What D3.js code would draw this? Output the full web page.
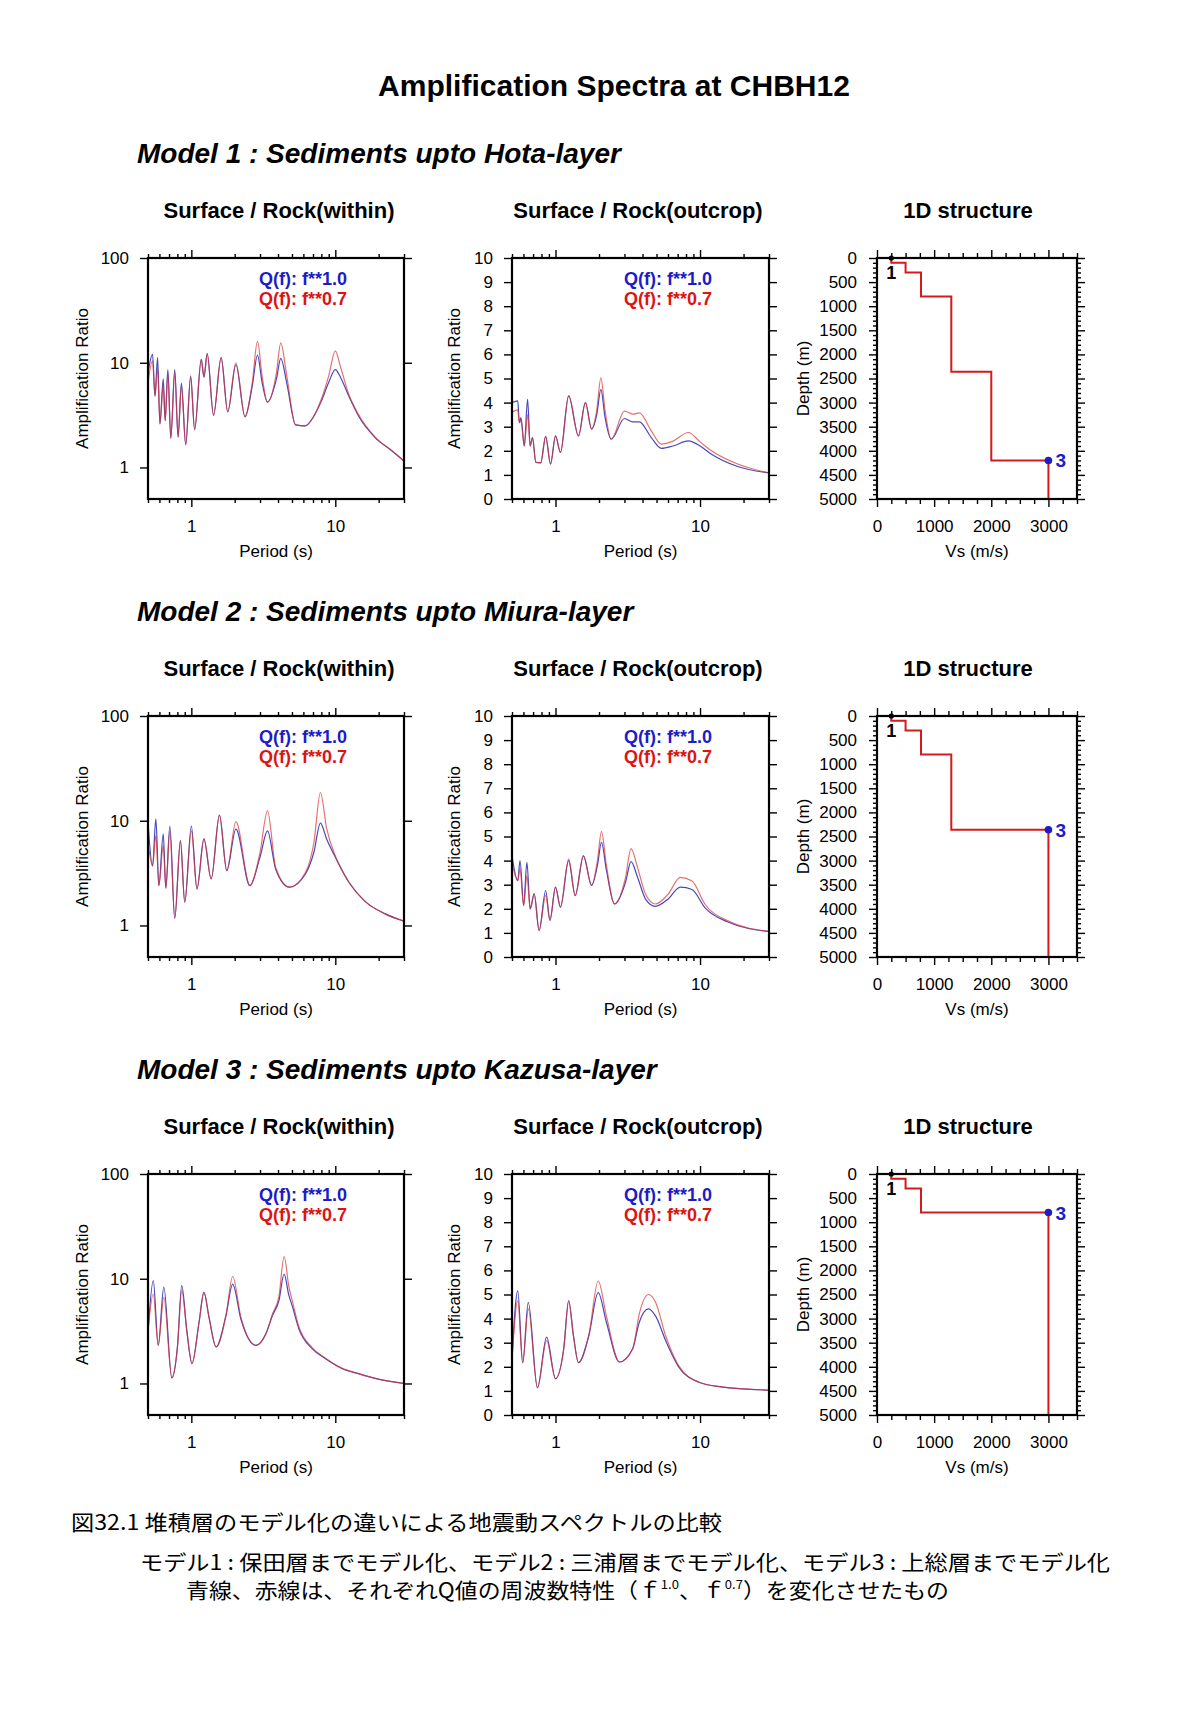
<!DOCTYPE html>
<meta charset="utf-8">
<script src="https://d3js.org/d3.v7.min.js"></script>
<style>
  body { margin: 0; background: #fff; }
</style>
<svg id="fig" width="1185" height="1724"></svg>
<script>
// ---------- values ----------
const figTitle = "Amplification Spectra at CHBH12";
const modelTitles = [
  "Model 1 : Sediments upto Hota-layer",
  "Model 2 : Sediments upto Miura-layer",
  "Model 3 : Sediments upto Kazusa-layer"
];
const panelTitles = ["Surface / Rock(within)", "Surface / Rock(outcrop)", "1D structure"];
const legendLabels = ["Q(f): f**1.0", "Q(f): f**0.7"];

// Model 1, surface / rock (within)
const m1WithinT    = [0.50, 0.538, 0.559, 0.583, 0.605, 0.638, 0.658, 0.687, 0.720, 0.767, 0.809, 0.853, 0.914, 0.989, 1.054, 1.172, 1.223, 1.289, 1.426, 1.61, 1.79, 2.04, 2.36, 2.65, 2.88, 3.1, 3.38, 3.9, 4.18, 4.6, 5.3, 6.2, 7.0, 8.0, 9.0, 10.0, 10.9, 12.4, 14.5, 18.9, 24.6, 30];
const m1WithinBlue = [8.0, 12.0, 4.8, 11.2, 2.6, 7.0, 2.8, 8.6, 1.9, 8.6, 1.95, 6.4, 1.65, 7.5, 2.3, 10.8, 7.3, 12.2, 3.15, 11.2, 3.4, 9.6, 3.05, 6.0, 11.8, 6.5, 4.2, 7.0, 11.0, 6.4, 2.55, 2.5, 3.0, 4.3, 6.5, 8.6, 7.2, 4.8, 3.1, 1.93, 1.45, 1.15];
const m1WithinRed  = [6.5, 10.4, 4.8, 9.0, 2.6, 6.0, 2.8, 8.0, 1.9, 8.0, 1.95, 6.0, 1.65, 7.3, 2.3, 10.8, 7.3, 12.2, 3.15, 11.2, 3.4, 10.0, 3.05, 6.5, 16.0, 7.5, 4.2, 8.0, 15.5, 7.5, 2.55, 2.5, 3.0, 4.5, 7.5, 13.0, 9.0, 5.0, 3.2, 1.95, 1.45, 1.15];

// Model 1, surface / rock (outcrop)
const m1OutcropT    = [0.50, 0.548, 0.562, 0.577, 0.608, 0.641, 0.668, 0.693, 0.731, 0.79, 0.855, 0.924, 1.0, 1.082, 1.233, 1.442, 1.61, 1.778, 1.93, 2.06, 2.2, 2.43, 3.0, 3.42, 3.8, 4.6, 5.4, 6.5, 8.3, 10.0, 12.0, 18.2, 30];
const m1OutcropBlue = [4.0, 4.07, 3.17, 3.38, 2.2, 4.14, 2.2, 2.55, 1.52, 1.5, 2.6, 1.45, 2.62, 1.93, 4.28, 2.62, 4.0, 2.9, 3.5, 4.55, 3.4, 2.48, 3.34, 3.2, 3.2, 2.55, 2.1, 2.2, 2.41, 2.2, 1.86, 1.35, 1.08];
const m1OutcropRed  = [3.6, 3.7, 3.17, 3.25, 2.2, 3.5, 2.2, 2.55, 1.52, 1.5, 2.6, 1.45, 2.62, 1.93, 4.28, 2.62, 4.0, 2.9, 3.7, 5.03, 3.7, 2.48, 3.65, 3.52, 3.57, 2.83, 2.28, 2.4, 2.76, 2.37, 2.0, 1.45, 1.08];

// Model 2, surface / rock (within)
const m2WithinT    = [0.50, 0.538, 0.567, 0.595, 0.638, 0.665, 0.709, 0.767, 0.840, 0.900, 1.0, 1.094, 1.223, 1.374, 1.568, 1.762, 2.04, 2.55, 3.0, 3.38, 3.85, 4.8, 6.2, 7.1, 7.88, 8.7, 10.0, 12.4, 16.1, 22.2, 30];
const m2WithinBlue = [9.6, 3.7, 10.4, 2.4, 7.5, 2.27, 8.9, 1.17, 6.45, 1.67, 8.9, 2.23, 6.7, 2.78, 11.3, 3.34, 8.3, 2.4, 4.5, 8.0, 3.46, 2.32, 3.1, 5.0, 9.5, 6.7, 4.5, 2.6, 1.7, 1.29, 1.1];
const m2WithinRed  = [6.2, 3.7, 7.2, 2.4, 5.8, 2.27, 8.0, 1.17, 6.45, 1.67, 8.0, 2.23, 6.7, 2.78, 11.3, 3.34, 9.8, 2.4, 5.0, 12.4, 3.6, 2.32, 3.2, 6.2, 18.6, 8.5, 4.6, 2.6, 1.7, 1.29, 1.1];

// Model 2, surface / rock (outcrop)
const m2OutcropT    = [0.50, 0.548, 0.568, 0.602, 0.634, 0.668, 0.712, 0.770, 0.855, 0.915, 1.0, 1.082, 1.233, 1.369, 1.56, 1.778, 1.95, 2.08, 2.25, 2.56, 3.05, 3.33, 3.7, 4.2, 4.9, 6.0, 7.3, 8.8, 10.8, 15.6, 30];
const m2OutcropBlue = [4.2, 3.17, 4.0, 2.14, 3.93, 2.0, 2.62, 1.1, 2.76, 1.52, 2.9, 2.07, 4.0, 2.55, 4.2, 2.97, 3.8, 4.76, 3.6, 2.2, 3.1, 3.96, 3.3, 2.4, 2.1, 2.4, 2.9, 2.8, 2.05, 1.45, 1.06];
const m2OutcropRed  = [3.9, 3.17, 3.66, 2.14, 3.38, 2.0, 2.62, 1.1, 2.55, 1.52, 2.9, 2.07, 4.07, 2.55, 4.2, 2.97, 4.0, 5.2, 3.8, 2.2, 3.3, 4.5, 3.7, 2.6, 2.2, 2.6, 3.3, 3.15, 2.2, 1.5, 1.06];

// Model 3, surface / rock (within)
const m3WithinT    = [0.50, 0.544, 0.589, 0.644, 0.732, 0.80, 0.858, 0.93, 1.01, 1.13, 1.223, 1.33, 1.487, 1.74, 1.937, 2.21, 2.81, 3.3, 3.66, 4.06, 4.41, 4.75, 5.02, 5.58, 6.9, 8.51, 11.1, 14.5, 18.9, 30];
const m3WithinBlue = [3.1, 9.6, 2.31, 8.3, 1.13, 2.2, 8.6, 3.2, 1.55, 3.8, 7.4, 4.2, 2.23, 4.46, 8.9, 4.1, 2.31, 3.0, 4.45, 6.2, 11.1, 7.0, 5.5, 3.33, 2.15, 1.73, 1.39, 1.24, 1.12, 1.0];
const m3WithinRed  = [3.1, 7.15, 2.31, 6.64, 1.13, 2.2, 7.7, 3.2, 1.55, 3.8, 7.4, 4.2, 2.23, 4.46, 10.5, 4.3, 2.31, 3.0, 4.6, 6.8, 16.3, 8.5, 6.2, 3.5, 2.2, 1.75, 1.4, 1.24, 1.12, 1.0];

// Model 3, surface / rock (outcrop)
const m3OutcropT    = [0.50, 0.548, 0.593, 0.648, 0.75, 0.868, 1.0, 1.14, 1.233, 1.33, 1.442, 1.7, 1.974, 2.25, 2.77, 3.42, 3.8, 4.4, 4.93, 5.77, 7.11, 9.73, 14.0, 30];
const m3OutcropBlue = [2.3, 5.15, 2.17, 4.67, 1.13, 3.23, 1.51, 2.75, 4.74, 3.3, 2.17, 3.3, 5.08, 3.85, 2.2, 2.75, 3.85, 4.4, 4.1, 3.1, 2.0, 1.37, 1.17, 1.03];
const m3OutcropRed  = [2.3, 4.74, 2.17, 4.4, 1.13, 3.09, 1.51, 2.75, 4.74, 3.3, 2.17, 3.3, 5.56, 4.1, 2.2, 2.75, 4.2, 5.0, 4.67, 3.3, 2.05, 1.37, 1.17, 1.03];

// 1D structures: Vs of each layer and depth of its top (m)
const m1Vs  = [250, 500, 770, 1300, 2000, 3000];
const m1Top = [0, 100, 300, 800, 2360, 4200];
const m2Vs  = [250, 500, 770, 1300, 3000];
const m2Top = [0, 100, 300, 800, 2360];
const m3Vs  = [250, 500, 770, 3000];
const m3Top = [0, 100, 300, 800];

// ticks
const periodMajor = [1, 10];
const periodMinor = [0.5, 0.6, 0.7, 0.8, 0.9, 2, 3, 4, 5, 6, 7, 8, 9, 20, 30];
const ratioLogTicks = [1, 10, 100];
const ratioLinTicks = [0, 1, 2, 3, 4, 5, 6, 7, 8, 9, 10];
const vsMajor = [0, 1000, 2000, 3000];
const depthMajor = [0, 500, 1000, 1500, 2000, 2500, 3000, 3500, 4000, 4500, 5000];

const captionLine1 = "図32.1 堆積層のモデル化の違いによる地震動スペクトルの比較";
const captionLine2 = "モデル1 : 保田層までモデル化、モデル2 : 三浦層までモデル化、モデル3 : 上総層までモデル化";
const captionLine3 = ["青線、赤線は、それぞれQ値の周波数特性（ｆ", "1.0", "、ｆ", "0.7", "）を変化させたもの"];

// ---------- layout ----------
const FONT = '"Liberation Sans", Arial, Helvetica, sans-serif';
const JFONT = '"Noto Sans CJK JP", "Noto Sans CJK SC", sans-serif';
const rowTops = [258, 716, 1174];
const panelH = 241;
const cols = [[148, 404], [512, 769], [877, 1077]];
const BLUE_TXT = "#1c1cc8", RED_TXT = "#dc1414";

const svg = d3.select("#fig");
svg.append("rect").attr("width", 1185).attr("height", 1724).attr("fill", "#fff");

const spectra = [
  [{T: m1WithinT, b: m1WithinBlue, r: m1WithinRed, log: true}, {T: m1OutcropT, b: m1OutcropBlue, r: m1OutcropRed, log: false}],
  [{T: m2WithinT, b: m2WithinBlue, r: m2WithinRed, log: true}, {T: m2OutcropT, b: m2OutcropBlue, r: m2OutcropRed, log: false}],
  [{T: m3WithinT, b: m3WithinBlue, r: m3WithinRed, log: true}, {T: m3OutcropT, b: m3OutcropBlue, r: m3OutcropRed, log: false}]
];
const structures = [[m1Vs, m1Top], [m2Vs, m2Top], [m3Vs, m3Top]];

function styleAxis(sel) {
  sel.select(".domain").remove();
  sel.attr("font-family", null).attr("font-size", null);
  sel.selectAll(".tick line").attr("stroke", "#000").attr("stroke-width", 1.4);
  sel.selectAll(".tick text").attr("font-family", FONT).attr("font-size", 17).attr("fill", "#000");
}

// one set of tick marks on one side of a box
function ticks(g, scale, side, at, values, len, withLabels, pad) {
  const maker = {bottom: d3.axisBottom, top: d3.axisTop, left: d3.axisLeft, right: d3.axisRight}[side];
  const ax = maker(scale).tickValues(values).tickSize(len).tickPadding(pad || 3)
    .tickFormat(withLabels ? d3.format("d") : () => "");
  const tr = (side === "bottom" || side === "top") ? `translate(0,${at})` : `translate(${at},0)`;
  g.append("g").attr("transform", tr).call(ax).call(styleAxis);
}

function frame(g, x0, y0, x1, y1) {
  g.append("rect").attr("x", x0).attr("y", y0).attr("width", x1 - x0).attr("height", y1 - y0)
    .attr("fill", "none").attr("stroke", "#000").attr("stroke-width", 2.2);
}

function axisTitles(g, cx, yLabelX, y0, y1, xText, yText) {
  g.append("text").attr("x", cx).attr("y", y1 + 58).attr("text-anchor", "middle")
    .attr("font-family", FONT).attr("font-size", 17).text(xText);
  g.append("text").attr("transform", `translate(${yLabelX},${(y0 + y1) / 2}) rotate(-90)`)
    .attr("text-anchor", "middle").attr("dominant-baseline", "central")
    .attr("font-family", FONT).attr("font-size", 17).text(yText);
}

let clipN = 0;
function spectrumPanel(g, x0, x1, y0, s) {
  const y1 = y0 + panelH;
  const x = d3.scaleLog().domain([0.5, 30]).range([x0, x1]);
  const y = s.log ? d3.scaleLog().domain([0.5, 100]).range([y1, y0])
                  : d3.scaleLinear().domain([0, 10]).range([y1, y0]);
  const id = "clip" + (clipN++);
  g.append("clipPath").attr("id", id).append("rect")
    .attr("x", x0).attr("y", y0).attr("width", x1 - x0).attr("height", y1 - y0);

  const line = d3.line().x(d => x(d[0])).y(d => y(d[1])).curve(d3.curveMonotoneX);
  const curves = g.append("g").attr("clip-path", `url(#${id})`).attr("fill", "none");
  curves.append("path").attr("d", line(s.T.map((t, i) => [t, s.b[i]])))
    .attr("stroke", "#2828b0").attr("stroke-width", 1.2).attr("stroke-opacity", 0.85);
  curves.append("path").attr("d", line(s.T.map((t, i) => [t, s.r[i]])))
    .attr("stroke", "#d83434").attr("stroke-width", 1.2).attr("stroke-opacity", 0.7);

  ticks(g, x, "bottom", y1, periodMajor, 8, true, 13);
  ticks(g, x, "bottom", y1, periodMinor, 4, false);
  ticks(g, x, "top", y0, periodMajor, 8, false);
  ticks(g, x, "top", y0, periodMinor, 4, false);
  const yt = s.log ? ratioLogTicks : ratioLinTicks;
  ticks(g, y, "left", x0, yt, 8, true, 11);
  ticks(g, y, "right", x1, yt, 8, false);
  frame(g, x0, y0, x1, y1);

  legendLabels.forEach((lab, i) => {
    g.append("text").attr("x", x1 - 57).attr("y", y0 + 27 + i * 20).attr("text-anchor", "end")
      .attr("font-family", FONT).attr("font-weight", "bold").attr("font-size", 18)
      .attr("fill", i === 0 ? BLUE_TXT : RED_TXT).text(lab);
  });
  axisTitles(g, (x0 + x1) / 2, s.log ? x0 - 66 : x0 - 58, y0, y1, "Period (s)", "Amplification Ratio");
}

function structurePanel(g, x0, x1, y0, vs, top) {
  const y1 = y0 + panelH;
  const x = d3.scaleLinear().domain([0, 3500]).range([x0, x1]);
  const y = d3.scaleLinear().domain([0, 5000]).range([y0, y1]);
  const pts = [];
  vs.forEach((v, i) => {
    pts.push([v, top[i]]);
    pts.push([v, i + 1 < top.length ? top[i + 1] : 5000]);
  });
  g.append("path").attr("d", d3.line().x(d => x(d[0])).y(d => y(d[1]))(pts))
    .attr("fill", "none").attr("stroke", "#d41a1a").attr("stroke-width", 2);

  const vsMinor = d3.range(250, 3501, 250).filter(v => v % 1000);
  const depthMinor = d3.range(0, 5001, 100).filter(v => v % 500);
  ticks(g, x, "bottom", y1, vsMajor, 8, true, 13);
  ticks(g, x, "bottom", y1, vsMinor, 5, false);
  ticks(g, x, "top", y0, vsMajor, 8, false);
  ticks(g, x, "top", y0, vsMinor, 5, false);
  ticks(g, y, "left", x0, depthMajor, 8, true, 12);
  ticks(g, y, "left", x0, depthMinor, 4, false);
  ticks(g, y, "right", x1, depthMajor, 8, false);
  ticks(g, y, "right", x1, depthMinor, 4, false);
  frame(g, x0, y0, x1, y1);

  // surface point (1) and base point (3)
  g.append("circle").attr("cx", x(vs[0])).attr("cy", y(0)).attr("r", 2.6).attr("fill", "#000");
  g.append("text").attr("x", x(vs[0])).attr("y", y(0) + 21).attr("text-anchor", "middle")
    .attr("font-family", FONT).attr("font-weight", "bold").attr("font-size", 18).text("1");
  const k = vs.length - 1;
  g.append("circle").attr("cx", x(vs[k])).attr("cy", y(top[k])).attr("r", 3.8).attr("fill", BLUE_TXT);
  g.append("text").attr("x", x(vs[k]) + 7).attr("y", y(top[k]) + 7)
    .attr("font-family", FONT).attr("font-weight", "bold").attr("font-size", 19)
    .attr("fill", BLUE_TXT).text("3");

  axisTitles(g, (x0 + x1) / 2, x0 - 74, y0, y1, "Vs (m/s)", "Depth (m)");
}

// ---------- draw ----------
svg.append("text").attr("x", 614).attr("y", 96).attr("text-anchor", "middle")
  .attr("font-family", FONT).attr("font-weight", "bold").attr("font-size", 30).text(figTitle);

rowTops.forEach((top, r) => {
  const g = svg.append("g");
  g.append("text").attr("x", 137).attr("y", top - 95)
    .attr("font-family", FONT).attr("font-weight", "bold").attr("font-style", "italic")
    .attr("font-size", 28).text(modelTitles[r]);
  [279, 638, 968].forEach((cx, c) => {
    g.append("text").attr("x", cx).attr("y", top - 40).attr("text-anchor", "middle")
      .attr("font-family", FONT).attr("font-weight", "bold").attr("font-size", 22).text(panelTitles[c]);
  });
  spectrumPanel(g, cols[0][0], cols[0][1], top, spectra[r][0]);
  spectrumPanel(g, cols[1][0], cols[1][1], top, spectra[r][1]);
  structurePanel(g, cols[2][0], cols[2][1], top, structures[r][0], structures[r][1]);
});

// caption
svg.append("text").attr("x", 71).attr("y", 1530).attr("font-family", JFONT).attr("font-size", 21)
  .attr("textLength", 651).attr("lengthAdjust", "spacingAndGlyphs").text(captionLine1);
svg.append("text").attr("x", 140).attr("y", 1570).attr("font-family", JFONT).attr("font-size", 21)
  .attr("textLength", 970).attr("lengthAdjust", "spacingAndGlyphs").text(captionLine2);
const c3 = svg.append("text").attr("x", 186).attr("y", 1598).attr("font-family", JFONT).attr("font-size", 21)
  .attr("textLength", 763).attr("lengthAdjust", "spacingAndGlyphs");
captionLine3.forEach((part, i) => {
  const sup = i === 1 || i === 3;
  c3.append("tspan").attr("font-size", sup ? 12 : 21).attr("dy", sup ? -9 : (i > 0 ? 9 : 0)).text(part);
});
</script>
